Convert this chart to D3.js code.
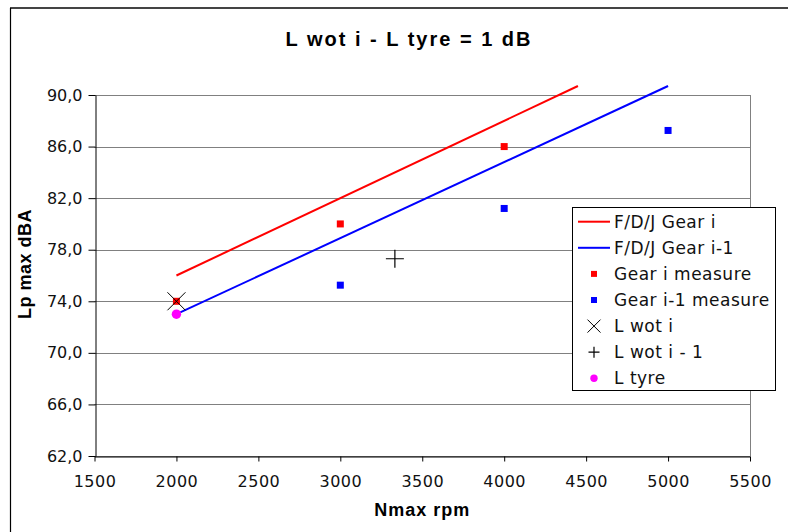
<!DOCTYPE html>
<html>
<head>
<meta charset="utf-8">
<script src="https://cdn.jsdelivr.net/npm/d3@7"></script>
<style>
  html, body { margin: 0; padding: 0; background: #fff; }
  svg { display: block; }
</style>
</head>
<body>
<svg id="chart" width="788" height="532"></svg>
<script>
// ---- data ----
const xTicks = [1500, 2000, 2500, 3000, 3500, 4000, 4500, 5000, 5500];
const yTicks = [62, 66, 70, 74, 78, 82, 86, 90];

const gearILineRpm = [2000, 4450];
const gearILineDb = [76.0, 90.7];
const gearI1LineRpm = [2000, 5000];
const gearI1LineDb = [73.0, 90.7];

const gearIMeasRpm = [2000, 3000, 4000];
const gearIMeasDb = [74.0, 80.0, 86.0];
const gearI1MeasRpm = [3000, 4000, 5000];
const gearI1MeasDb = [75.25, 81.2, 87.25];

const lWotIRpm = [2000];
const lWotIDb = [74.0];
const lWotI1Rpm = [3333];
const lWotI1Db = [77.3];
const lTyreRpm = [2000];
const lTyreDb = [73.0];

const legendLabels = ["F/D/J Gear i", "F/D/J Gear i-1", "Gear i measure", "Gear i-1 measure", "L wot i", "L wot i - 1", "L tyre"];

const titleText = "L wot i - L tyre = 1 dB";
const xTitle = "Nmax rpm";
const yTitle = "Lp max dBA";

(function () {
// ---- layout ----
const svg = d3.select("#chart");
const pLeft = 94.5, pRight = 750, pTop = 95, pBottom = 456;

const x = d3.scaleLinear().domain([1500, 5500]).range([pLeft, pRight]);
const y = d3.scaleLinear().domain([62, 90]).range([pBottom, pTop]);

const zip = (a, b) => a.map((v, i) => [v, b[i]]);

// frame
svg.append("line").attr("x1", 10).attr("x2", 788).attr("y1", 8).attr("y2", 8)
  .attr("stroke", "#444").attr("stroke-width", 2);
svg.append("line").attr("x1", 10.5).attr("x2", 10.5).attr("y1", 8).attr("y2", 532)
  .attr("stroke", "#000").attr("stroke-width", 1.2);

const boldFont = "Liberation Sans, Arial, sans-serif";
// title
svg.append("text").attr("x", 409).attr("y", 39).attr("text-anchor", "middle")
  .attr("dominant-baseline", "central")
  .style("font-family", boldFont).style("font-weight", "bold")
  .style("font-size", "20px").style("letter-spacing", "2px").text(titleText);

// gridlines
svg.append("g").selectAll("line").data(yTicks).join("line")
  .attr("x1", pLeft).attr("x2", pRight)
  .attr("y1", d => Math.round(y(d)) + 0.5).attr("y2", d => Math.round(y(d)) + 0.5)
  .attr("stroke", "#808080").attr("stroke-width", 1);
// plot area right border
svg.append("line").attr("x1", pRight + 0.5).attr("x2", pRight + 0.5).attr("y1", pTop).attr("y2", pBottom)
  .attr("stroke", "#808080").attr("stroke-width", 1);

// axes
const tickFont = "DejaVu Sans, Verdana, sans-serif";
const xAxis = d3.axisBottom(x).tickValues(xTicks).tickSize(5).tickSizeOuter(0).tickPadding(14)
  .tickFormat(d3.format("d"));
const gx = svg.append("g").attr("transform", `translate(0,${Math.round(pBottom) + 0.5})`).call(xAxis);
gx.select(".domain").attr("stroke", "#000");
gx.selectAll(".tick line").attr("stroke", "#000");
gx.selectAll("text").style("font-family", tickFont).style("font-size", "16px")
  .style("letter-spacing", "0.5px").attr("fill", "#111");

const fmtComma = d => d3.format(".1f")(d).replace(".", ",");
const yAxis = d3.axisLeft(y).tickValues(yTicks).tickSize(7).tickSizeOuter(0).tickPadding(6)
  .tickFormat(fmtComma);
const gy = svg.append("g").attr("transform", `translate(${Math.round(pLeft) + 0.5},0)`).call(yAxis);
gy.select(".domain").attr("stroke", "#000");
gy.selectAll(".tick line").attr("stroke", "#000");
gy.selectAll("text").style("font-family", tickFont).style("font-size", "16px").attr("fill", "#111");

// axis titles
svg.append("text").attr("x", (pLeft + pRight) / 2).attr("y", 510).attr("text-anchor", "middle")
  .attr("dominant-baseline", "central")
  .style("font-family", boldFont).style("font-weight", "bold")
  .style("font-size", "18px").style("letter-spacing", "1px").text(xTitle);
svg.append("text").attr("transform", `translate(25,264) rotate(-90)`)
  .attr("text-anchor", "middle").attr("dominant-baseline", "central")
  .style("font-family", boldFont).style("font-weight", "bold")
  .style("font-size", "18px").style("letter-spacing", "0.5px").text(yTitle);

// lines
const line = d3.line().x(d => x(d[0])).y(d => y(d[1]));
svg.append("path").datum(zip(gearILineRpm, gearILineDb)).attr("d", line)
  .attr("fill", "none").attr("stroke", "#ff0000").attr("stroke-width", 2);
svg.append("path").datum(zip(gearI1LineRpm, gearI1LineDb)).attr("d", line)
  .attr("fill", "none").attr("stroke", "#0000ff").attr("stroke-width", 2);

// squares
function squares(data, color, s) {
  svg.append("g").selectAll("rect").data(data).join("rect")
    .attr("x", d => x(d[0]) - s / 2).attr("y", d => y(d[1]) - s / 2)
    .attr("width", s).attr("height", s).attr("fill", color);
}
squares(zip(gearIMeasRpm, gearIMeasDb), "#ff0000", 7);
squares(zip(gearI1MeasRpm, gearI1MeasDb), "#0000ff", 7);

// X / + markers
function crossX(g, cx, cy, h) {
  g.append("path").attr("d", `M${cx - h},${cy - h}L${cx + h},${cy + h}M${cx - h},${cy + h}L${cx + h},${cy - h}`)
    .attr("stroke", "#000").attr("stroke-width", 1).attr("fill", "none");
}
function plus(g, cx, cy, h) {
  g.append("path").attr("d", `M${cx - h},${cy}L${cx + h},${cy}M${cx},${cy - h}L${cx},${cy + h}`)
    .attr("stroke", "#000").attr("stroke-width", 1.2).attr("fill", "none");
}
zip(lWotIRpm, lWotIDb).forEach(d => crossX(svg, x(d[0]), y(d[1]), 9));
zip(lWotI1Rpm, lWotI1Db).forEach(d => plus(svg, x(d[0]), y(d[1]), 9));

// circles
svg.append("g").selectAll("circle").data(zip(lTyreRpm, lTyreDb)).join("circle")
  .attr("cx", d => x(d[0])).attr("cy", d => y(d[1])).attr("r", 4.7).attr("fill", "#ff00ff");

// legend
const lg = svg.append("g");
lg.append("rect").attr("x", 572.5).attr("y", 207.5).attr("width", 203).attr("height", 183)
  .attr("fill", "#fff").attr("stroke", "#000").attr("stroke-width", 1);
const rowY = i => 221.7 + i * 26.1;
const mx = 594;
legendLabels.forEach((lab, i) => {
  lg.append("text").attr("x", 614).attr("y", rowY(i)).attr("dominant-baseline", "central")
    .style("font-family", tickFont).style("font-size", "17px").style("letter-spacing", "0.5px")
    .attr("fill", "#111").text(lab);
});
lg.append("line").attr("x1", 578).attr("x2", 610).attr("y1", rowY(0)).attr("y2", rowY(0))
  .attr("stroke", "#ff0000").attr("stroke-width", 2);
lg.append("line").attr("x1", 578).attr("x2", 610).attr("y1", rowY(1)).attr("y2", rowY(1))
  .attr("stroke", "#0000ff").attr("stroke-width", 2);
lg.append("rect").attr("x", mx - 3).attr("y", rowY(2) - 3).attr("width", 6).attr("height", 6).attr("fill", "#ff0000");
lg.append("rect").attr("x", mx - 3).attr("y", rowY(3) - 3).attr("width", 6).attr("height", 6).attr("fill", "#0000ff");
crossX(lg, mx, rowY(4), 6.5);
plus(lg, mx, rowY(5), 5.5);
lg.append("circle").attr("cx", mx).attr("cy", rowY(6)).attr("r", 3.7).attr("fill", "#ff00ff");
})();
</script>
</body>
</html>
